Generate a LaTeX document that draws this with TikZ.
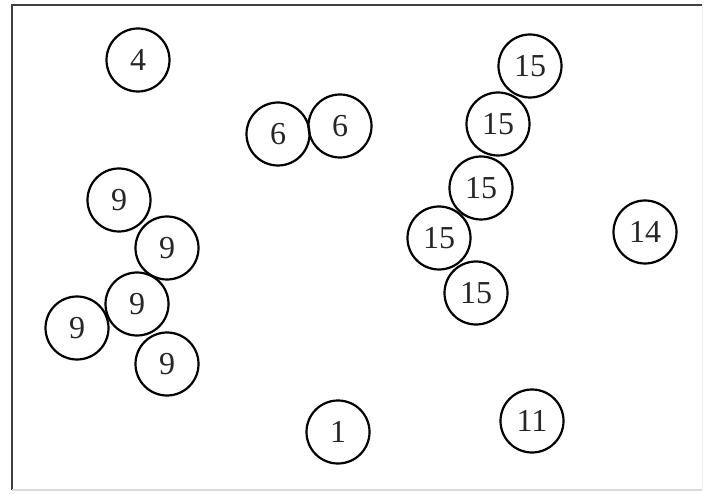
\documentclass[tikz,border=0pt]{standalone}
\usepackage{fontspec}
\setmainfont{Liberation Serif}
\begin{document}
\begin{tikzpicture}[x=1pt,y=-1pt,
  ball/.style={circle,draw=black,line width=2.2pt,minimum size=63pt,inner sep=0pt,font=\fontsize{32}{32}\selectfont,text=black!85}]
\useasboundingbox (0,0) rectangle (704,494);
\draw[line width=2pt,black!75] (12,490) -- (12,5) -- (702,5);
\draw[line width=2pt,blue!20!gray!25] (12,490) -- (702,490);
\draw[line width=1pt,blue!10!gray!12] (702,490) -- (702,5);
\node[ball] (n4) at (138,60) {4};
\node[ball] (n6a) at (278,134) {6};
\node[ball] (n6b) at (340,126) {6};
\node[ball] (n9a) at (119,200) {9};
\node[ball] (n9b) at (167,248) {9};
\node[ball] (n9c) at (137,304) {9};
\node[ball] (n9d) at (77,328) {9};
\node[ball] (n9e) at (167,364) {9};
\node[ball] (n15a) at (530,66) {15};
\node[ball] (n15b) at (498,124) {15};
\node[ball] (n15c) at (481,188) {15};
\node[ball] (n15d) at (439,238) {15};
\node[ball] (n15e) at (476,293) {15};
\node[ball] (n14) at (645,232) {14};
\node[ball] (n1) at (338,432) {1};
\node[ball] (n11) at (532,421) {11};
\end{tikzpicture}
\end{document}
